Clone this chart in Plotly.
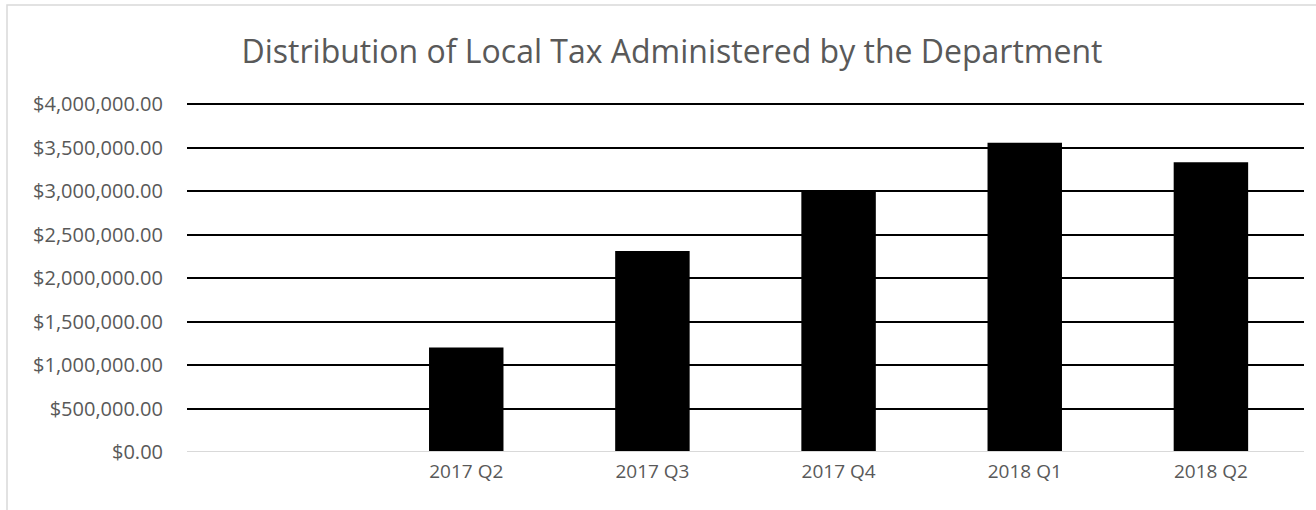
import plotly.graph_objects as go

categories = [" ", "2017 Q2", "2017 Q3", "2017 Q4", "2018 Q1", "2018 Q2"]
values = [None, 1200000, 2310000, 3010000, 3555000, 3330000]
y_ticks = [0, 500000, 1000000, 1500000, 2000000, 2500000, 3000000, 3500000, 4000000]

W, H = 1316, 510
L, R, T, B = 187, 12, 103, 58
pw, ph = W - L - R, H - T - B

fig = go.Figure(go.Bar(
    x=categories, y=values,
    marker=dict(color="#000000", line=dict(color="#000000", width=0)),
    width=0.4,
))

fig.update_layout(
    width=W, height=H,
    margin=dict(l=L, r=R, t=T, b=B),
    paper_bgcolor="white", plot_bgcolor="white",
    showlegend=False,
    title=dict(text="Distribution of Local Tax Administered by the Department",
               x=672 / W, xanchor="center", xref="container", y=1 - 52 / H, yanchor="middle", yref="container",
               font=dict(family="Open Sans", size=32, color="#595959")),
    font=dict(family="Open Sans", color="#595959"),
    xaxis=dict(type="category", categoryorder="array", categoryarray=categories,
               range=[-0.5, 5.5], showgrid=False, zeroline=False,
               showline=False, ticks="", tickfont=dict(size=19, color="#595959"),
               ticklabelstandoff=6),
    yaxis=dict(range=[0, 4012000], tickvals=y_ticks, tickformat="$,.2f",
               showgrid=True, gridcolor="#000000", gridwidth=2,
               zeroline=False, showline=False, ticks="",
               tickfont=dict(size=20, color="#595959"), ticklabelstandoff=23),
    shapes=[
        dict(type="line", xref="paper", yref="y", x0=0, x1=1, y0=0, y1=0,
             line=dict(color="#d9d9d9", width=2), layer="above"),
        dict(type="rect", xref="paper", yref="paper",
             x0=(7 - L) / pw, x1=(W + 20 - L) / pw,
             y0=-(H + 20 - T - ph) / ph, y1=1 + (T - 5) / ph,
             line=dict(color="#d9d9d9", width=1.5), fillcolor="rgba(0,0,0,0)"),
    ],
)

fig.write_html("out.html", config={"displayModeBar": False},
               post_script="document.body.style.margin='0';")
